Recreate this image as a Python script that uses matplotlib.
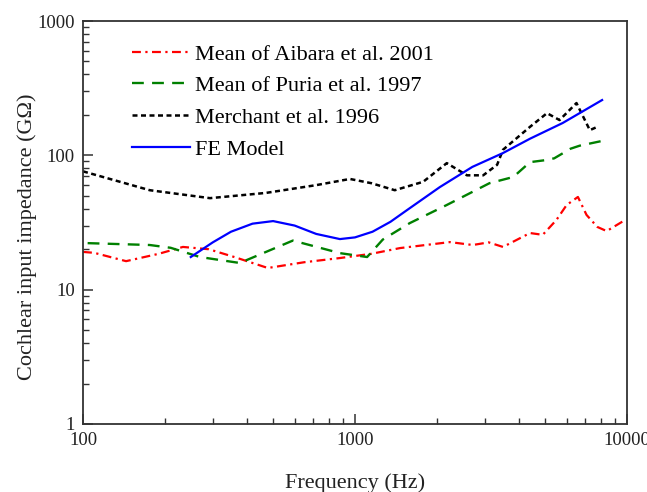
import numpy as np
import matplotlib
matplotlib.use('Agg')
import matplotlib.pyplot as plt
from matplotlib.ticker import FixedLocator, FixedFormatter, LogLocator, NullFormatter

plt.rcParams['font.family'] = ['Liberation Serif', 'DejaVu Serif']

# Mean of Aibara et al. 2001
aibara_f = [100, 110, 144, 190, 233, 290, 360, 478, 650, 881, 1150, 1464, 2233, 2710, 3100, 3500,
            4400, 4900, 5500, 6000, 6600, 7100, 7780, 8420, 9840]
aibara_z = [19.1, 18.8, 16.3, 18.5, 20.8, 20.0, 17.5, 14.5, 16.0, 17.2, 18.5, 20.4, 22.6, 21.5, 22.5, 20.8,
            26.4, 25.6, 33.0, 42.7, 49.0, 36.0, 29.3, 27.3, 33.0]

# Mean of Puria et al. 1997
puria_f = [104, 176, 210, 269, 377, 591, 881, 1108, 1265, 1590, 2175, 3120, 3820, 4400, 5000, 5400,
           6200, 6700, 8400]
puria_z = [22.2, 21.5, 20.5, 17.5, 15.8, 23.2, 18.7, 17.5, 23.6, 31.3, 42.7, 62.0, 69.0, 89.0, 92.0, 95.0,
           112.0, 118.0, 130.0]

# Merchant et al. 1996
merchant_f = [100, 176, 293, 470, 720, 958, 1150, 1400, 1780, 2175, 2580, 2960, 3330, 3500, 4400,
              5080, 5650, 6520, 7300, 7780]
merchant_z = [76.0, 55.0, 48.0, 52.5, 60.0, 66.7, 62.0, 55.0, 63.5, 87.5, 71.0, 71.0, 85.0, 110.0, 163.0,
              206.0, 183.0, 245.0, 154.0, 163.0]

# FE Model
fe_f = [249, 300, 350, 420, 500, 600, 720, 880, 1000, 1160, 1350, 1550, 2050, 2700, 3500, 4400, 5800, 8100]
fe_z = [17.5, 22.5, 27.0, 31.0, 32.4, 30.0, 26.0, 23.8, 24.5, 27.0, 32.0, 39.0, 58.0, 82.0, 104.0, 133.0,
        174.0, 258.0]

fig = plt.figure(figsize=(6.47, 4.92), dpi=100)
ax = fig.add_axes([83 / 647, 1 - 424 / 492, 544 / 647, 403 / 492])

ax.plot(aibara_f, aibara_z, color='#ff0000', lw=1.6, linestyle=(0, (4, 2, 1, 2)), label='Mean of Aibara et al. 2001')
ax.plot(puria_f, puria_z, color='#008000', lw=1.7, linestyle=(0, (5, 3.5)), label='Mean of Puria et al. 1997')
ax.plot(merchant_f, merchant_z, color='black', lw=1.8, linestyle=(0, (2, 1.4)), label='Merchant et al. 1996')
ax.plot(fe_f, fe_z, color='#0000ff', lw=1.6, label='FE Model')

ax.set_xscale('log')
ax.set_yscale('log')
ax.set_xlim(100, 10000)
ax.set_ylim(1, 1000)

ax.xaxis.set_major_locator(FixedLocator([100, 1000, 10000]))
ax.xaxis.set_major_formatter(FixedFormatter(['100', '1000', '10000']))
ax.yaxis.set_major_locator(FixedLocator([1, 10, 100, 1000]))
ax.yaxis.set_major_formatter(FixedFormatter(['1', '10', '100', '1000']))
ax.xaxis.set_minor_locator(LogLocator(base=10, subs=np.arange(2, 10)))
ax.yaxis.set_minor_locator(LogLocator(base=10, subs=np.arange(2, 10)))
ax.xaxis.set_minor_formatter(NullFormatter())
ax.yaxis.set_minor_formatter(NullFormatter())

ax.tick_params(which='both', direction='in', top=False, right=False, colors='#333333', labelcolor='#222222')
ax.tick_params(which='major', length=7, width=1.1, labelsize=13.5, pad=6)
ax.tick_params(which='minor', length=4, width=1.0)
for s in ax.spines.values():
    s.set_linewidth(1.3)
    s.set_color('#333333')

ax.set_xlabel('Frequency (Hz)', fontsize=16, labelpad=17, color='#222222')
ax.set_ylabel('Cochlear input impedance (G\u03a9)', fontsize=16, color='#222222')
ax.yaxis.set_label_coords(-0.085, 0.464)

ax.legend(loc='upper left', bbox_to_anchor=(0.09, 0.943), frameon=False, fontsize=16,
          handlelength=2.6, handletextpad=0.25, labelspacing=0.5, borderpad=0, borderaxespad=0)

fig.savefig('out.png', dpi=100)
